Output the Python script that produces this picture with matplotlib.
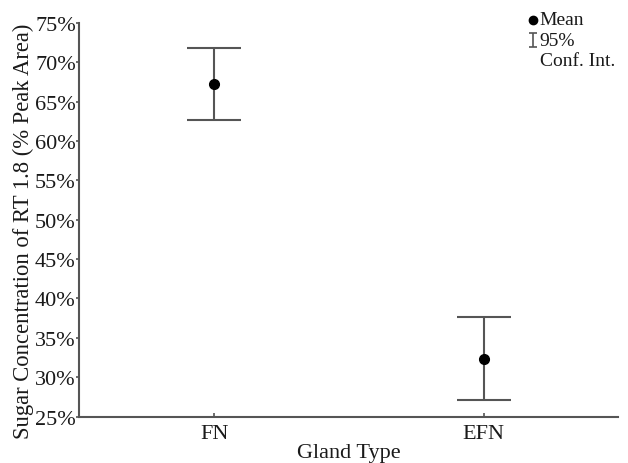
import matplotlib.pyplot as plt
from matplotlib.ticker import FuncFormatter

plt.rcParams['font.family'] = ['Liberation Serif', 'DejaVu Serif']

# data
glands = ['FN', 'EFN']
means = [67.25, 32.3]
ci_low = [62.65, 27.1]
ci_high = [71.85, 37.6]

grey = '#555555'
txt = '#1a1a1a'

fig = plt.figure(figsize=(6.28, 4.64), dpi=100)
ax = fig.add_axes([0.1263, 0.1002, 0.8583, 0.8481])

xs = list(range(1, len(glands) + 1))
yerr = [[m - lo for m, lo in zip(means, ci_low)],
        [hi - m for m, hi in zip(means, ci_high)]]
ax.errorbar(xs, means, yerr=yerr, fmt='none', ecolor=grey, elinewidth=1.5,
            capsize=19.5, capthick=1.5)
ax.plot(xs, means, 'o', color='black', markersize=7, zorder=3)

ax.set_xlim(0.5, 2.5)
ax.set_ylim(25, 75)
ax.set_xticks(xs)
ax.set_xticklabels(glands)
ax.set_yticks(range(25, 76, 5))
ax.yaxis.set_major_formatter(FuncFormatter(lambda v, p: f'{v:.0f}%'))

for s in ['top', 'right']:
    ax.spines[s].set_visible(False)
for s in ['left', 'bottom']:
    ax.spines[s].set_color(grey)
    ax.spines[s].set_linewidth(1.5)

ax.tick_params(axis='y', direction='out', length=2, width=1.2, color=grey,
               labelsize=16, labelcolor=txt, pad=0.5)
ax.tick_params(axis='x', direction='in', length=3, width=1.2, color=grey,
               labelsize=16, labelcolor=txt, pad=5.5)

ax.set_ylabel('Sugar Concentration of RT 1.8 (% Peak Area)', fontsize=16.3,
              color=txt)
ax.yaxis.set_label_coords(-0.084, 0.474)
ax.set_xlabel('Gland Type', fontsize=16, color=txt, labelpad=0)

# legend drawn by hand in the top right corner
lx, ly = 0.842, 1.008
step = 0.052
ax.plot([lx], [ly], 'o', color='black', markersize=6,
        transform=ax.transAxes, clip_on=False)
ax.text(lx + 0.012, ly, 'Mean', transform=ax.transAxes, fontsize=14,
        color=txt, va='center', ha='left')
ax.errorbar([lx], [ly - step], yerr=[[0.018], [0.018]], fmt='none',
            ecolor=grey, elinewidth=1.2, capsize=3, capthick=1.2,
            transform=ax.transAxes, clip_on=False)
ax.text(lx + 0.012, ly - step, '95%', transform=ax.transAxes, fontsize=14,
        color=txt, va='center', ha='left')
ax.text(lx + 0.012, ly - 2 * step, 'Conf. Int.', transform=ax.transAxes,
        fontsize=14, color=txt, va='center', ha='left')

fig.savefig('out.png', dpi=100)
